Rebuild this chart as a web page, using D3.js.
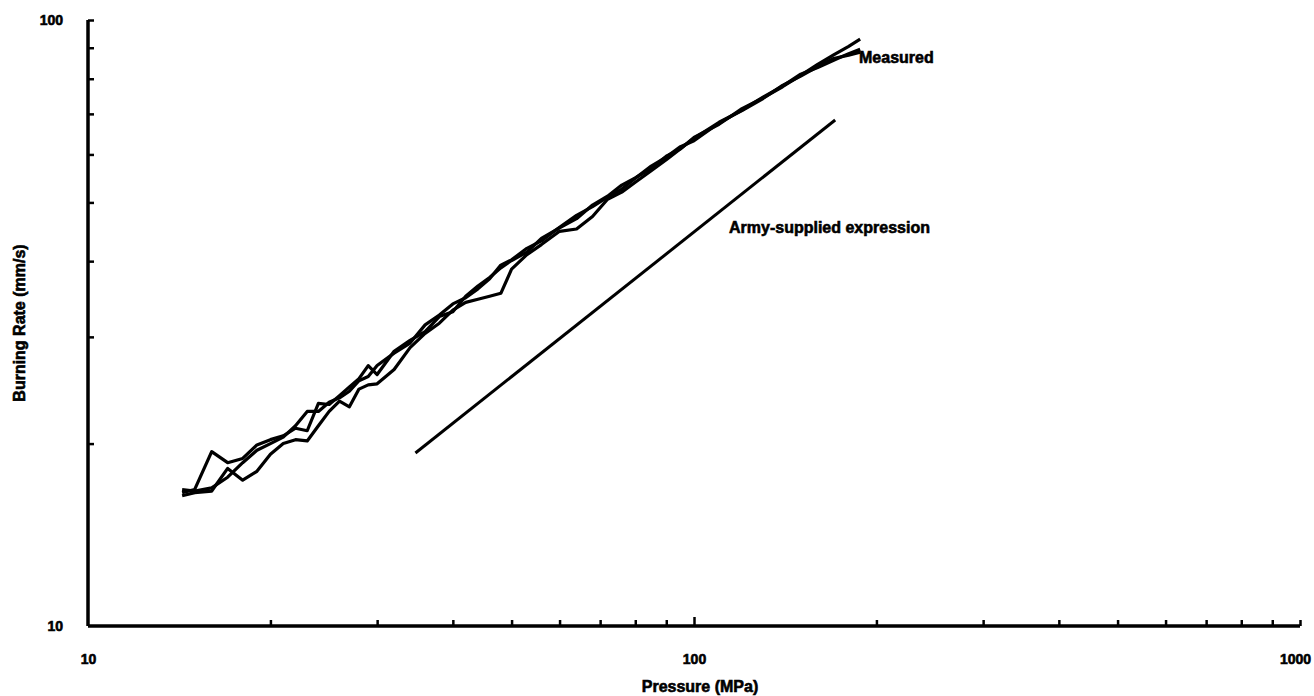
<!DOCTYPE html>
<html lang="en">
<head>
    <meta charset="UTF-8">
    <title>Burning Rate vs Pressure</title>
    <style>
        body { margin: 0; background: #fff; }
        text { font-family: "Liberation Sans", Arial, sans-serif; font-weight: bold; fill: #000; stroke: #000; stroke-width: 0.6px; }
    </style>
</head>
<body>
<script src="https://d3js.org/d3.v7.min.js"></script>

<div id="my_data"></div>

<script type="text/javascript">

    // pressure grid (MPa) shared by the three measured runs
    var pressure = [14.3, 15, 16, 17, 18, 19, 20, 21, 22, 23, 24, 25, 26, 27, 28, 29, 30, 32, 34, 36,
        38, 40, 42, 44, 46, 48, 50, 53, 56, 60, 64, 68, 72, 76, 80, 85, 90, 95, 100, 110,
        120, 130, 140, 150, 160, 170, 180, 188];

    // burning rate (mm/s), three measured runs
    var rateRun1 = [16.6, 16.8, 19.4, 18.6, 18.9, 19.9, 20.3, 20.6, 21.2, 21.0, 23.3, 23.2, 24.0, 24.8, 25.6, 26.9, 26.0, 28.4, 29.6, 30.6,
        32.4, 33.0, 35.0, 36.4, 37.6, 39.0, 40.1, 41.4, 43.6, 45.4, 47.0, 49.5, 51.2, 53.4, 54.9, 56.9, 59.6, 61.3, 64.0, 67.3,
        71.4, 74.4, 77.6, 81.0, 84.5, 87.6, 90.5, 93.0];
    var rateRun2 = [16.8, 16.7, 16.9, 17.6, 18.6, 19.5, 20.0, 20.5, 21.4, 22.6, 22.6, 23.4, 23.8, 24.4, 25.4, 25.8, 26.9, 28.2, 29.3, 31.4,
        32.6, 34.0, 34.8, 36.0, 37.4, 39.4, 40.2, 42.0, 43.2, 45.5, 47.6, 49.2, 51.0, 52.6, 54.8, 57.4, 59.4, 61.8, 63.2, 67.6,
        71.0, 74.6, 77.8, 81.4, 83.5, 85.8, 88.0, 89.5];
    var rateRun3 = [16.4, 16.6, 16.7, 18.2, 17.4, 18.0, 19.2, 20.0, 20.3, 20.2, 21.4, 22.6, 23.5, 23.0, 24.6, 25.0, 25.1, 26.5, 28.8, 30.4,
        31.6, 33.2, 34.2, 34.6, 35.0, 35.4, 38.8, 41.0, 42.6, 44.8, 45.2, 47.4, 50.6, 52.0, 54.0, 56.4, 58.8, 61.3, 63.8, 67.8,
        70.9, 74.2, 78.0, 80.8, 83.8, 86.4, 87.5, 88.5];

    // Army-supplied expression (straight line on log-log)
    var armyPressure = [34.7, 171];
    var armyRate = [19.3, 68.4];

    var xTicks = [20, 30, 40, 50, 60, 70, 80, 90, 100, 200, 300, 400, 500, 600, 700, 800, 900, 1000];
    var yTicks = [20, 30, 40, 50, 60, 70, 80, 90, 100];
    var xLabels = [10, 100, 1000];
    var yLabels = [10, 100];

    var margin = { top: 20, right: 14, bottom: 70, left: 88 },
        width = 1314 - margin.left - margin.right,
        height = 696 - margin.top - margin.bottom;

    var svg = d3
        .select("#my_data")
        .append("svg")
        .attr("width", width + margin.left + margin.right)
        .attr("height", height + margin.top + margin.bottom)
        .append("g")
        .attr("transform", "translate(" + margin.left + "," + margin.top + ")");

    var x = d3.scaleLog().domain([10, 1000]).range([0, width]);
    var y = d3.scaleLog().domain([10, 100]).range([height, 0]);

    // x axis: inward ticks
    var gx = svg.append("g")
        .attr("transform", "translate(0," + height + ")")
        .call(d3.axisBottom(x).tickValues(xTicks).tickSize(-6).tickFormat(""));
    gx.select(".domain").attr("stroke-width", 3.5).attr("d", "M0,0H" + width);
    gx.selectAll(".tick line").attr("stroke-width", 2.5)
        .attr("y2", function(d) { return d === 100 ? -9 : -6; });

    svg.append("g")
        .attr("transform", "translate(0," + height + ")")
        .call(d3.axisBottom(x).tickValues(xLabels).tickSize(0).tickPadding(28).tickFormat(d3.format("d")))
        .call(function(g) { g.select(".domain").remove(); })
        .selectAll("text")
        .style("font-size", "14px").style("font-family", "Liberation Sans, Arial").style("font-weight", "bold")
        .attr("dx", function(d) { return d === 1000 ? -5 : 0; });

    // y axis: inward ticks
    var gy = svg.append("g")
        .call(d3.axisLeft(y).tickValues(yTicks).tickSize(-6).tickFormat(""));
    gy.select(".domain").attr("stroke-width", 3.5).attr("d", "M0,0V" + height);
    gy.selectAll(".tick line").attr("stroke-width", 2.5);

    svg.append("g")
        .call(d3.axisLeft(y).tickValues(yLabels).tickSize(0).tickPadding(25).tickFormat(d3.format("d")))
        .call(function(g) { g.select(".domain").remove(); })
        .selectAll("text").style("font-size", "14px").style("font-family", "Liberation Sans, Arial").style("font-weight", "bold");

    // axis titles
    svg.append("text")
        .attr("x", width / 2 + 6)
        .attr("y", height + 66)
        .attr("text-anchor", "middle")
        .style("font-size", "16px")
        .text("Pressure (MPa)");

    svg.append("text")
        .attr("transform", "translate(" + (-63) + "," + (height / 2) + ") rotate(-90)")
        .attr("text-anchor", "middle")
        .style("font-size", "16px")
        .text("Burning Rate (mm/s)");

    // measured runs
    var line = d3.line()
        .x(function(d) { return x(d[0]); })
        .y(function(d) { return y(d[1]); });

    [rateRun1, rateRun2, rateRun3].forEach(function(run) {
        svg.append("path")
            .datum(d3.zip(pressure, run))
            .attr("fill", "none")
            .attr("stroke", "#000")
            .attr("stroke-width", 3.2)
            .attr("stroke-linejoin", "round")
            .attr("d", line);
    });

    // army expression
    svg.append("path")
        .datum(d3.zip(armyPressure, armyRate))
        .attr("fill", "none")
        .attr("stroke", "#000")
        .attr("stroke-width", 3)
        .attr("d", line);

    // labels
    svg.append("text")
        .attr("x", 859 - margin.left)
        .attr("y", 63 - margin.top)
        .style("font-size", "16px")
        .text("Measured");

    svg.append("text")
        .attr("x", 729 - margin.left)
        .attr("y", 233 - margin.top)
        .style("font-size", "16px")
        .text("Army-supplied expression");

</script>
</body>
</html>
